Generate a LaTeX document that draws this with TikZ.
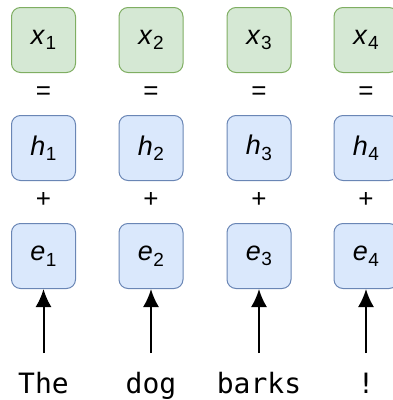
\documentclass[tikz,border=0pt]{standalone}
\usepackage{fontspec}
\setmainfont{Liberation Sans}
\newfontfamily\wordfont{DejaVu Sans Mono}
\usepackage{xcolor}
\usepackage{tikz}
\usetikzlibrary{arrows.meta}

\definecolor{inGreen}{HTML}{D5E8D4}
\definecolor{inGreenLine}{HTML}{7FAE62}
\definecolor{embBlue}{HTML}{DAE8FC}
\definecolor{embBlueLine}{HTML}{6A86B5}

\newcommand{\tokvec}[2]{\textit{#1}\kern0.5pt\raisebox{-5.5pt}{\fontsize{19}{19}\selectfont #2}}

\begin{document}
\begin{tikzpicture}[
    x=1pt, y=-1pt,
    box/.style={rectangle, draw, rounded corners=9pt, line width=1pt, minimum width=64pt, minimum height=65pt, inner sep=0pt, font=\fontsize{27}{27}\selectfont},
    xbox/.style={box, fill=inGreen, draw=inGreenLine},
    vbox/.style={box, fill=embBlue, draw=embBlueLine},
    sym/.style={inner sep=0pt, font=\fontsize{26}{26}\selectfont},
    word/.style={inner sep=0pt, anchor=base, font=\wordfont\fontsize{28}{28}\selectfont},
    arrow/.style={-{Latex[length=18pt, width=16pt]}, line width=2pt}
]
\clip (0,0) rectangle (393,400);

\node[xbox] (x1) at (43.5,40) {\tokvec{x}{1}};
\node[xbox] (x2) at (151,40) {\tokvec{x}{2}};
\node[xbox] (x3) at (259,40) {\tokvec{x}{3}};
\node[xbox] (x4) at (366,40) {\tokvec{x}{4}};

\node[sym] (eq1) at (43.5,93) {=};
\node[sym] (eq2) at (151,93) {=};
\node[sym] (eq3) at (259,93) {=};
\node[sym] (eq4) at (366,93) {=};

\node[vbox] (h1) at (43.5,148) {\tokvec{h}{1}};
\node[vbox] (h2) at (151,148) {\tokvec{h}{2}};
\node[vbox] (h3) at (259,148) {\tokvec{h}{3}};
\node[vbox] (h4) at (366,148) {\tokvec{h}{4}};

\node[sym] (plus1) at (43.5,200) {+};
\node[sym] (plus2) at (151,200) {+};
\node[sym] (plus3) at (259,200) {+};
\node[sym] (plus4) at (366,200) {+};

\node[vbox] (e1) at (43.5,256) {\tokvec{e}{1}};
\node[vbox] (e2) at (151,256) {\tokvec{e}{2}};
\node[vbox] (e3) at (259,256) {\tokvec{e}{3}};
\node[vbox] (e4) at (366,256) {\tokvec{e}{4}};

\node[word] (w1) at (43.5,393) {The};
\node[word] (w2) at (151,393) {dog};
\node[word] (w3) at (259,393) {barks};
\node[word] (w4) at (366,393) {!};

\coordinate (s1) at (43.5,353);
\coordinate (s2) at (151,353);
\coordinate (s3) at (259,353);
\coordinate (s4) at (366,353);

\draw[arrow] (s1) -- (e1);
\draw[arrow] (s2) -- (e2);
\draw[arrow] (s3) -- (e3);
\draw[arrow] (s4) -- (e4);

\end{tikzpicture}
\end{document}
